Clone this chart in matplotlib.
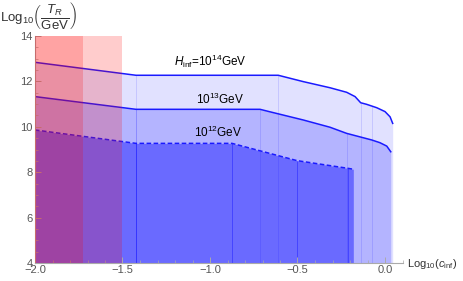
import matplotlib
matplotlib.use("Agg")
import matplotlib.pyplot as plt
import numpy as np

plt.rcParams['font.family'] = ['Liberation Sans', 'DejaVu Sans']
plt.rcParams['mathtext.fontset'] = 'custom'
plt.rcParams['mathtext.rm'] = 'Liberation Sans'
plt.rcParams['mathtext.it'] = 'Liberation Sans:italic'
plt.rcParams['mathtext.bf'] = 'Liberation Sans:bold'

# ---- data ----
h14_x = [-2.0, -1.423, -0.610, -0.467, -0.314, -0.219, -0.171, -0.139, -0.105, -0.047, 0.000, 0.029, 0.044]
h14_y = [12.84, 12.27, 12.27, 11.99, 11.72, 11.52, 11.33, 11.06, 10.99, 10.84, 10.67, 10.44, 10.15]
h13_x = [-2.0, -1.423, -0.714, -0.657, -0.467, -0.314, -0.219, -0.076, -0.029, 0.010, 0.033]
h13_y = [11.33, 10.77, 10.77, 10.66, 10.30, 9.98, 9.71, 9.42, 9.30, 9.15, 8.90]
h12_x = [-2.0, -1.423, -0.874, -0.503, -0.211, -0.181]
h12_y = [9.86, 9.27, 9.27, 8.51, 8.17, 8.13]

# polygon seams (breakpoints of each filled region)
h14_seams = [-1.423, -0.610, -0.139, -0.074]
h13_seams = [-1.423, -0.714, -0.219]
h12_seams = [-1.423, -0.874, -0.503, -0.211]

red_bounds = [-1.726, -1.5]

labels = ['$H_{\\rm inf}$=10$^{14}$GeV', '10$^{13}$GeV', '10$^{12}$GeV']
label_pos = [(-1.0, 12.9), (-0.94, 11.22), (-0.955, 9.77)]

xticks = [-2.0, -1.5, -1.0, -0.5, 0.0]
yticks = [4, 6, 8, 10, 12, 14]

# ---- figure ----
fig = plt.figure(figsize=(4.63, 2.81), dpi=100)
ax = fig.add_axes([35/463, 1-263/281, (402.5-35)/463, (263-36)/281])
ax.set_xlim(-2.0, 0.1)
ax.set_ylim(4, 14)

blue = '#1a1aff'
fills = [(h14_x, h14_y, 0.118, h14_seams),
         (h13_x, h13_y, 0.20, h13_seams),
         (h12_x, h12_y, 0.406, h12_seams)]
for xs, ys, a, seams in fills:
    ax.fill_between(xs, 4, ys, color=(0, 0, 1), alpha=a, lw=0, zorder=1)
    for s in seams:
        top = np.interp(s, xs, ys)
        ax.vlines(s, 4, top, color=(0, 0, 1), alpha=0.12 if a < 0.3 else 0.35, lw=0.7, zorder=1.5)

ax.plot(h14_x, h14_y, color=blue, lw=1.1, zorder=2)
ax.plot(h13_x, h13_y, color=blue, lw=1.1, zorder=2)
ax.plot(h12_x, h12_y, color=blue, lw=1.1, ls=(0, (3, 1.6)), zorder=2)

for b in red_bounds:
    ax.axvspan(-2.0, b, color=(1, 0, 0), alpha=0.2, lw=0, zorder=3)

for t, (x, y) in zip(labels, label_pos):
    ax.text(x, y, t, ha='center', va='center', fontsize=8.5, color='black', zorder=4)

for s in ['top', 'right']:
    ax.spines[s].set_visible(False)
for s in ['left', 'bottom']:
    ax.spines[s].set_color('#aaaaaa')
    ax.spines[s].set_linewidth(0.8)

ax.set_xticks(xticks)
ax.set_xticklabels([f'{v:.1f}'.replace('-', '\u2212') for v in xticks])
ax.set_yticks(yticks)
ax.set_yticklabels([str(v) for v in yticks])
ax.set_xticks(np.arange(-2.0, 0.101, 0.1), minor=True)
ax.set_yticks(np.arange(4, 14.01, 0.5), minor=True)
ax.tick_params(which='both', direction='in', color='#aaaaaa', labelcolor='#555555', labelsize=8)
ax.tick_params(which='major', length=4, width=0.7, pad=1.5)
ax.tick_params(which='minor', length=2, width=0.5)

fig.text(0.0, 1.0, r'Log$_{10}\left(\dfrac{T_R}{\mathrm{GeV}}\right)$', ha='left', va='top',
         fontsize=9.5, color='#333333')
fig.text(407/463, 1-264/281, r'Log$_{10}$($c_{\rm inf}$)', ha='left', va='center',
         fontsize=8, color='#333333')

fig.savefig('out.png', dpi=100)
